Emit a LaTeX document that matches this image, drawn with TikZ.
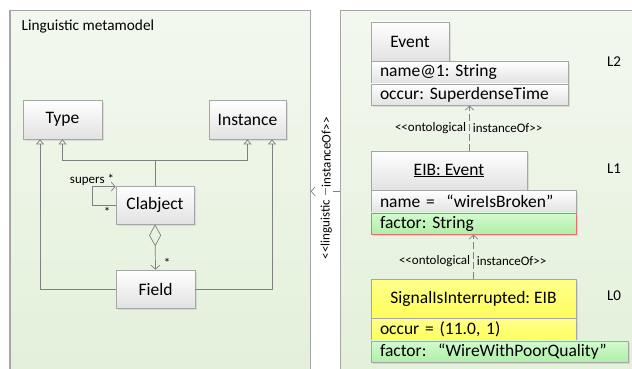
\documentclass[tikz,border=0pt]{standalone}
\usepackage{fontspec}
\setmainfont{Carlito}
\usetikzlibrary{arrows.meta,positioning,shadows}
\definecolor{panelTop}{HTML}{F3F8EF}
\definecolor{panelBot}{HTML}{E3F0DA}
\definecolor{frameGray}{HTML}{A6A6A6}
\definecolor{lineGray}{HTML}{808080}
\definecolor{boxBot}{HTML}{E2E2E2}
\definecolor{yelTop}{HTML}{FFFF8C}
\definecolor{yelBot}{HTML}{FFFF5A}
\definecolor{grnTop}{HTML}{D4FAD0}
\definecolor{grnBot}{HTML}{AEEFA6}
\definecolor{redLine}{HTML}{EE6F6F}
\frenchspacing

\begin{document}
\begin{tikzpicture}[x=1pt, y=-1pt, line width=.7pt]
\useasboundingbox (0,0) rectangle (632,369);
\tikzstyle{panel} = [draw=frameGray, top color=panelTop, bottom color=panelBot, inner sep=0pt, anchor=north west]
\tikzstyle{cls} = [draw=frameGray, top color=white, bottom color=boxBot, inner sep=0pt, font=\fontsize{17.5}{20}\selectfont, drop shadow={shadow xshift=2pt, shadow yshift=-2pt, opacity=.2}]
\tikzstyle{attr} = [cls, anchor=north west, align=left, inner xsep=9pt, minimum height=21.5pt]
\tikzstyle{yel} = [top color=yelTop, bottom color=yelBot]
\tikzstyle{grn} = [top color=grnTop, bottom color=grnBot]
\tikzstyle{lbl} = [font=\fontsize{13}{15}\selectfont, inner sep=1pt]
\tikzstyle{gen} = [draw=lineGray, -{Triangle[open, width=8pt, length=5pt]}]
\tikzstyle{assoc} = [draw=lineGray, -{Straight Barb[width=9pt, length=4pt]}]
\tikzstyle{onto} = [assoc, dash pattern=on 7pt off 3pt]
% panels
\node[panel, minimum width=300, minimum height=362] (lpanel) at (10,10) {};
\draw[frameGray, line width=2pt] (lpanel.north west) -- (lpanel.south west);
\node[panel, minimum width=320, minimum height=362] (rpanel) at (340,10) {};
\node[anchor=west, font=\fontsize{15.3}{18}\selectfont] (title) at (18,27) {Linguistic metamodel};
% linguistic metamodel
\node[cls, minimum width=79, minimum height=39] (type) at (62.5,119.5) {Type};
\node[cls, minimum width=77, minimum height=39] (inst) at (247.5,119.5) {Instance};
\node[cls, minimum width=78, minimum height=38] (clab) at (155,205) {Clabject};
\node[cls, minimum width=79, minimum height=38] (field) at (155.5,289) {Field};
\coordinate (join) at (155,160);
\draw[lineGray] (clab.north) -- (join);
\draw[gen] (join) -| (type.south);
\draw[gen] (join) -| (inst.south);
\draw[gen] (field.west) -| ([xshift=-22.5pt]type.south);
\draw[gen] (field.east) -| ([xshift=24.5pt]inst.south);
\draw[assoc] (clab.west) -- ++(-23,0) |- ([yshift=-1pt]clab.north west);
\node[lbl] (supers) at (92,180) {supers *};
\node[lbl] (sstar) at (107,212) {*};
\draw[draw=lineGray, {Diamond[open, width=12pt, length=22pt]}-{Straight Barb[width=9pt, length=4pt]}] (clab.south) -- (field.north);
\node[lbl] (fstar) at (167,263) {*};
% levels
\node[cls, minimum width=78, minimum height=39] (event) at (410,41.5) {Event};
\node[attr, text width=179] (ename) at (event.south west) {name@1: String};
\node[attr, text width=179] (eoccur) at (ename.south west) {occur: SuperdenseTime};
\node[cls, minimum width=156, minimum height=39] (eib) at (449,170.5) {\underline{EIB: Event}};
\node[attr, text width=187] (eibname) at (eib.south west) {name = \ “wireIsBroken”};
\node[attr, grn, draw=redLine, text width=187] (eibfactor) at (eibname.south west) {factor: String};
\node[cls, yel, minimum width=205, minimum height=39] (sig) at (473.5,298.5) {SignalIsInterrupted: EIB};
\node[attr, yel, text width=187] (sigoccur) at (sig.south west) {occur = (11.0, 1)};
\node[attr, grn, text width=239] (sigfactor) at (sigoccur.south west) {factor: \ “WireWithPoorQuality”};
\draw[onto] (eib.north -| eoccur.south) -- node[lbl, left=2pt] (o1a) {<{}<ontological} node[lbl, right=2pt] (o1b) {instanceOf>{}>} (eoccur.south);
\draw[onto] (sig.north) -- node[lbl, pos=.4, left=2pt] (o2a) {<{}<ontological} node[lbl, pos=.4, right=2pt] (o2b) {instanceOf>{}>} (eibfactor.south);
\node[font=\fontsize{15}{18}\selectfont] (l2) at (614,62) {L2};
\node[font=\fontsize{15}{18}\selectfont] (l1) at (614,169) {L1};
\node[font=\fontsize{15}{18}\selectfont] (l0) at (614,296) {L0};
% linguistic instanceOf
\draw[assoc, dash pattern=on 7pt off 30pt] (rpanel.west) -- node[lbl, pos=.47, rotate=90, anchor=west, inner xsep=4pt] (lg1) {instanceOf>{}>} node[lbl, pos=.47, rotate=90, anchor=east, inner xsep=8pt] (lg2) {<{}<linguistic} (lpanel.east);
\draw[lineGray] (325,188) -- (325,195);
\end{tikzpicture}
\end{document}
